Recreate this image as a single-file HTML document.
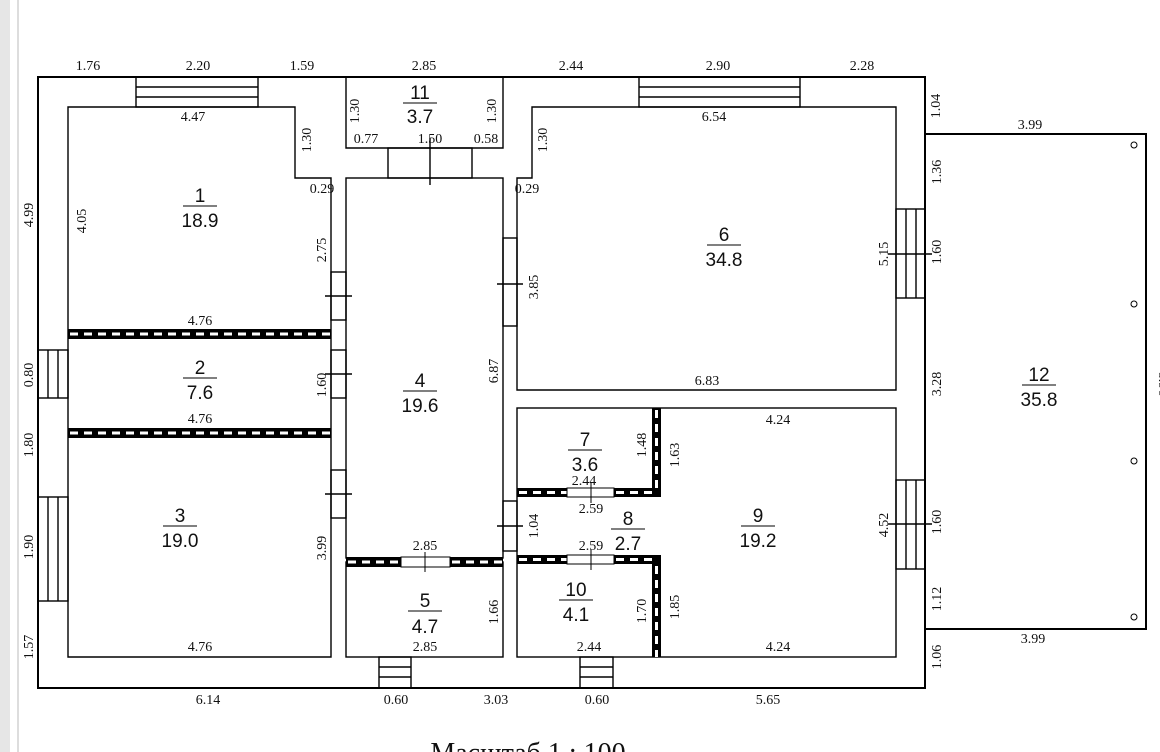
<!DOCTYPE html>
<html><head><meta charset="utf-8"><style>
html,body{margin:0;padding:0;background:#fff;}
svg{display:block}
.d{font-family:"Liberation Serif",serif;font-size:14px;fill:#111}
.r{font-family:"Liberation Sans",sans-serif;font-size:19px;fill:#111}
</style></head><body>
<svg width="1160" height="752" viewBox="0 0 1160 752" xmlns="http://www.w3.org/2000/svg">
<rect x="0" y="0" width="10" height="752" fill="#e6e6e6"/>
<line x1="18" y1="0" x2="18" y2="752" stroke="#bbb" stroke-width="1"/>
<g fill="none" stroke="#000" stroke-width="1.4">
<path d="M38 77 H925 V688 H38 Z" stroke-width="2"/>
<path d="M925 134 H1146 V629 H925" stroke-width="2"/>
<path d="M68 107 H295 V178 H331 V657 H68 Z"/>
<rect x="346" y="178" width="157" height="380"/>
<path d="M346 77 V148 H503 V77"/>
<rect x="388" y="148" width="84" height="30"/>
<line x1="430" y1="138" x2="430" y2="185"/>
<rect x="346" y="562" width="157" height="95"/>
<path d="M532 107 H896 V390 H517 V178 H532 Z"/>
<rect x="517" y="408" width="379" height="249"/>
<rect x="136" y="77" width="122" height="30"/><line x1="136" y1="87" x2="258" y2="87"/><line x1="136" y1="97" x2="258" y2="97"/>
<rect x="639" y="77" width="161" height="30"/><line x1="639" y1="87" x2="800" y2="87"/><line x1="639" y1="97" x2="800" y2="97"/>
<rect x="38" y="350" width="30" height="48"/><line x1="48" y1="350" x2="48" y2="398"/><line x1="58" y1="350" x2="58" y2="398"/>
<rect x="38" y="497" width="30" height="104"/><line x1="48" y1="497" x2="48" y2="601"/><line x1="58" y1="497" x2="58" y2="601"/>
<rect x="896" y="209" width="29" height="89"/><line x1="906" y1="209" x2="906" y2="298"/><line x1="916" y1="209" x2="916" y2="298"/>
<line x1="888" y1="254" x2="932" y2="254"/>
<rect x="896" y="480" width="29" height="89"/><line x1="906" y1="480" x2="906" y2="569"/><line x1="916" y1="480" x2="916" y2="569"/>
<line x1="888" y1="524" x2="932" y2="524"/>
<rect x="379" y="657" width="32" height="31"/><line x1="379" y1="667" x2="411" y2="667"/><line x1="379" y1="677" x2="411" y2="677"/>
<rect x="580" y="657" width="33" height="31"/><line x1="580" y1="667" x2="613" y2="667"/><line x1="580" y1="677" x2="613" y2="677"/>
<rect x="331" y="272" width="15" height="48"/><line x1="325" y1="296" x2="352" y2="296"/>
<rect x="331" y="350" width="15" height="48"/><line x1="325" y1="374" x2="352" y2="374"/>
<rect x="331" y="470" width="15" height="48"/><line x1="325" y1="494" x2="352" y2="494"/>
<rect x="503" y="238" width="14" height="88"/><line x1="497" y1="284" x2="523" y2="284"/>
<rect x="503" y="501" width="14" height="50"/><line x1="497" y1="526" x2="523" y2="526"/>
</g>
<g>
<rect x="68" y="329" width="263" height="10" fill="#000"/><line x1="70" y1="334" x2="331" y2="334" stroke="#fff" stroke-width="3" stroke-dasharray="8 6"/>
<rect x="68" y="428" width="263" height="10" fill="#000"/><line x1="70" y1="433" x2="331" y2="433" stroke="#fff" stroke-width="3" stroke-dasharray="8 6"/>
<rect x="346" y="557" width="55" height="10" fill="#000"/><line x1="348" y1="562" x2="401" y2="562" stroke="#fff" stroke-width="3" stroke-dasharray="8 6"/>
<rect x="450" y="557" width="53" height="10" fill="#000"/><line x1="452" y1="562" x2="503" y2="562" stroke="#fff" stroke-width="3" stroke-dasharray="8 6"/>
<rect x="517" y="488" width="50" height="9" fill="#000"/><line x1="519" y1="492.5" x2="567" y2="492.5" stroke="#fff" stroke-width="3" stroke-dasharray="8 6"/>
<rect x="614" y="488" width="47" height="9" fill="#000"/><line x1="616" y1="492.5" x2="652" y2="492.5" stroke="#fff" stroke-width="3" stroke-dasharray="8 6"/>
<rect x="652" y="408" width="9" height="89" fill="#000"/><line x1="656.5" y1="410" x2="656.5" y2="488" stroke="#fff" stroke-width="3" stroke-dasharray="8 6"/>
<rect x="517" y="555" width="50" height="9" fill="#000"/><line x1="519" y1="559.5" x2="567" y2="559.5" stroke="#fff" stroke-width="3" stroke-dasharray="8 6"/>
<rect x="614" y="555" width="47" height="9" fill="#000"/><line x1="616" y1="559.5" x2="652" y2="559.5" stroke="#fff" stroke-width="3" stroke-dasharray="8 6"/>
<rect x="652" y="555" width="9" height="102" fill="#000"/><line x1="656.5" y1="566" x2="656.5" y2="657" stroke="#fff" stroke-width="3" stroke-dasharray="8 6"/>
<rect x="567" y="488" width="47" height="9" fill="#fff" stroke="#000"/>
<rect x="567" y="555" width="47" height="9" fill="#fff" stroke="#000"/>
<rect x="401" y="557" width="49" height="10" fill="#fff" stroke="#000"/>
<line x1="425" y1="552" x2="425" y2="572" stroke="#000"/>
<line x1="591" y1="483" x2="591" y2="503" stroke="#000"/>
<line x1="591" y1="550" x2="591" y2="570" stroke="#000"/>
</g>
<g fill="none" stroke="#000">
<circle cx="1134" cy="145" r="3"/><circle cx="1134" cy="304" r="3"/><circle cx="1134" cy="461" r="3"/><circle cx="1134" cy="617" r="3"/>
</g>
<g class="r" text-anchor="middle">
<text x="200" y="202">1</text><line x1="183" y1="206" x2="217" y2="206" stroke="#000"/><text x="200" y="227">18.9</text>
<text x="200" y="374">2</text><line x1="183" y1="378" x2="217" y2="378" stroke="#000"/><text x="200" y="399">7.6</text>
<text x="180" y="522">3</text><line x1="163" y1="526" x2="197" y2="526" stroke="#000"/><text x="180" y="547">19.0</text>
<text x="420" y="387">4</text><line x1="403" y1="391" x2="437" y2="391" stroke="#000"/><text x="420" y="412">19.6</text>
<text x="425" y="607">5</text><line x1="408" y1="611" x2="442" y2="611" stroke="#000"/><text x="425" y="633">4.7</text>
<text x="724" y="241">6</text><line x1="707" y1="245" x2="741" y2="245" stroke="#000"/><text x="724" y="266">34.8</text>
<text x="585" y="446">7</text><line x1="568" y1="450" x2="602" y2="450" stroke="#000"/><text x="585" y="471">3.6</text>
<text x="628" y="525">8</text><line x1="611" y1="529" x2="645" y2="529" stroke="#000"/><text x="628" y="550">2.7</text>
<text x="758" y="522">9</text><line x1="741" y1="526" x2="775" y2="526" stroke="#000"/><text x="758" y="547">19.2</text>
<text x="576" y="596">10</text><line x1="559" y1="600" x2="593" y2="600" stroke="#000"/><text x="576" y="621">4.1</text>
<text x="420" y="99">11</text><line x1="403" y1="103" x2="437" y2="103" stroke="#000"/><text x="420" y="123">3.7</text>
<text x="1039" y="381">12</text><line x1="1022" y1="385" x2="1056" y2="385" stroke="#000"/><text x="1039" y="406">35.8</text>
</g>
<g class="d" text-anchor="middle">
<text x="88" y="70">1.76</text><text x="198" y="70">2.20</text><text x="302" y="70">1.59</text><text x="424" y="70">2.85</text>
<text x="571" y="70">2.44</text><text x="718" y="70">2.90</text><text x="862" y="70">2.28</text>
<text x="193" y="121">4.47</text><text x="714" y="121">6.54</text><text x="1030" y="129">3.99</text>
<text x="366" y="143">0.77</text><text x="430" y="143">1.50</text><text x="486" y="143">0.58</text>
<text x="322" y="193">0.29</text><text x="527" y="193">0.29</text>
<text x="200" y="325">4.76</text><text x="200" y="423">4.76</text><text x="707" y="385">6.83</text>
<text x="778" y="424">4.24</text><text x="584" y="485">2.44</text><text x="591" y="513">2.59</text><text x="591" y="550">2.59</text>
<text x="425" y="550">2.85</text><text x="425" y="651">2.85</text><text x="589" y="651">2.44</text><text x="778" y="651">4.24</text>
<text x="200" y="651">4.76</text><text x="1033" y="643">3.99</text>
<text x="208" y="704">6.14</text><text x="396" y="704">0.60</text><text x="496" y="704">3.03</text><text x="597" y="704">0.60</text><text x="768" y="704">5.65</text>
</g>
<g class="d" text-anchor="middle">
<text transform="translate(33,215) rotate(-90)">4.99</text>
<text transform="translate(86,221) rotate(-90)">4.05</text>
<text transform="translate(311,140) rotate(-90)">1.30</text>
<text transform="translate(359,111) rotate(-90)">1.30</text>
<text transform="translate(496,111) rotate(-90)">1.30</text>
<text transform="translate(547,140) rotate(-90)">1.30</text>
<text transform="translate(326,250) rotate(-90)">2.75</text>
<text transform="translate(326,385) rotate(-90)">1.60</text>
<text transform="translate(326,548) rotate(-90)">3.99</text>
<text transform="translate(498,371) rotate(-90)">6.87</text>
<text transform="translate(538,287) rotate(-90)">3.85</text>
<text transform="translate(538,526) rotate(-90)">1.04</text>
<text transform="translate(498,612) rotate(-90)">1.66</text>
<text transform="translate(33,375) rotate(-90)">0.80</text>
<text transform="translate(33,445) rotate(-90)">1.80</text>
<text transform="translate(33,547) rotate(-90)">1.90</text>
<text transform="translate(33,647) rotate(-90)">1.57</text>
<text transform="translate(646,445) rotate(-90)">1.48</text>
<text transform="translate(679,455) rotate(-90)">1.63</text>
<text transform="translate(646,611) rotate(-90)">1.70</text>
<text transform="translate(679,607) rotate(-90)">1.85</text>
<text transform="translate(888,254) rotate(-90)">5.15</text>
<text transform="translate(888,525) rotate(-90)">4.52</text>
<text transform="translate(940,106) rotate(-90)">1.04</text>
<text transform="translate(941,172) rotate(-90)">1.36</text>
<text transform="translate(941,252) rotate(-90)">1.60</text>
<text transform="translate(941,384) rotate(-90)">3.28</text>
<text transform="translate(941,522) rotate(-90)">1.60</text>
<text transform="translate(941,599) rotate(-90)">1.12</text>
<text transform="translate(941,657) rotate(-90)">1.06</text>
<text transform="translate(1159,384) rotate(90)">8.96</text>
</g>
<text x="528" y="762" text-anchor="middle" style="font-family:'Liberation Serif',serif;font-size:28px;fill:#111">Масштаб 1 : 100</text>
</svg>
</body></html>
